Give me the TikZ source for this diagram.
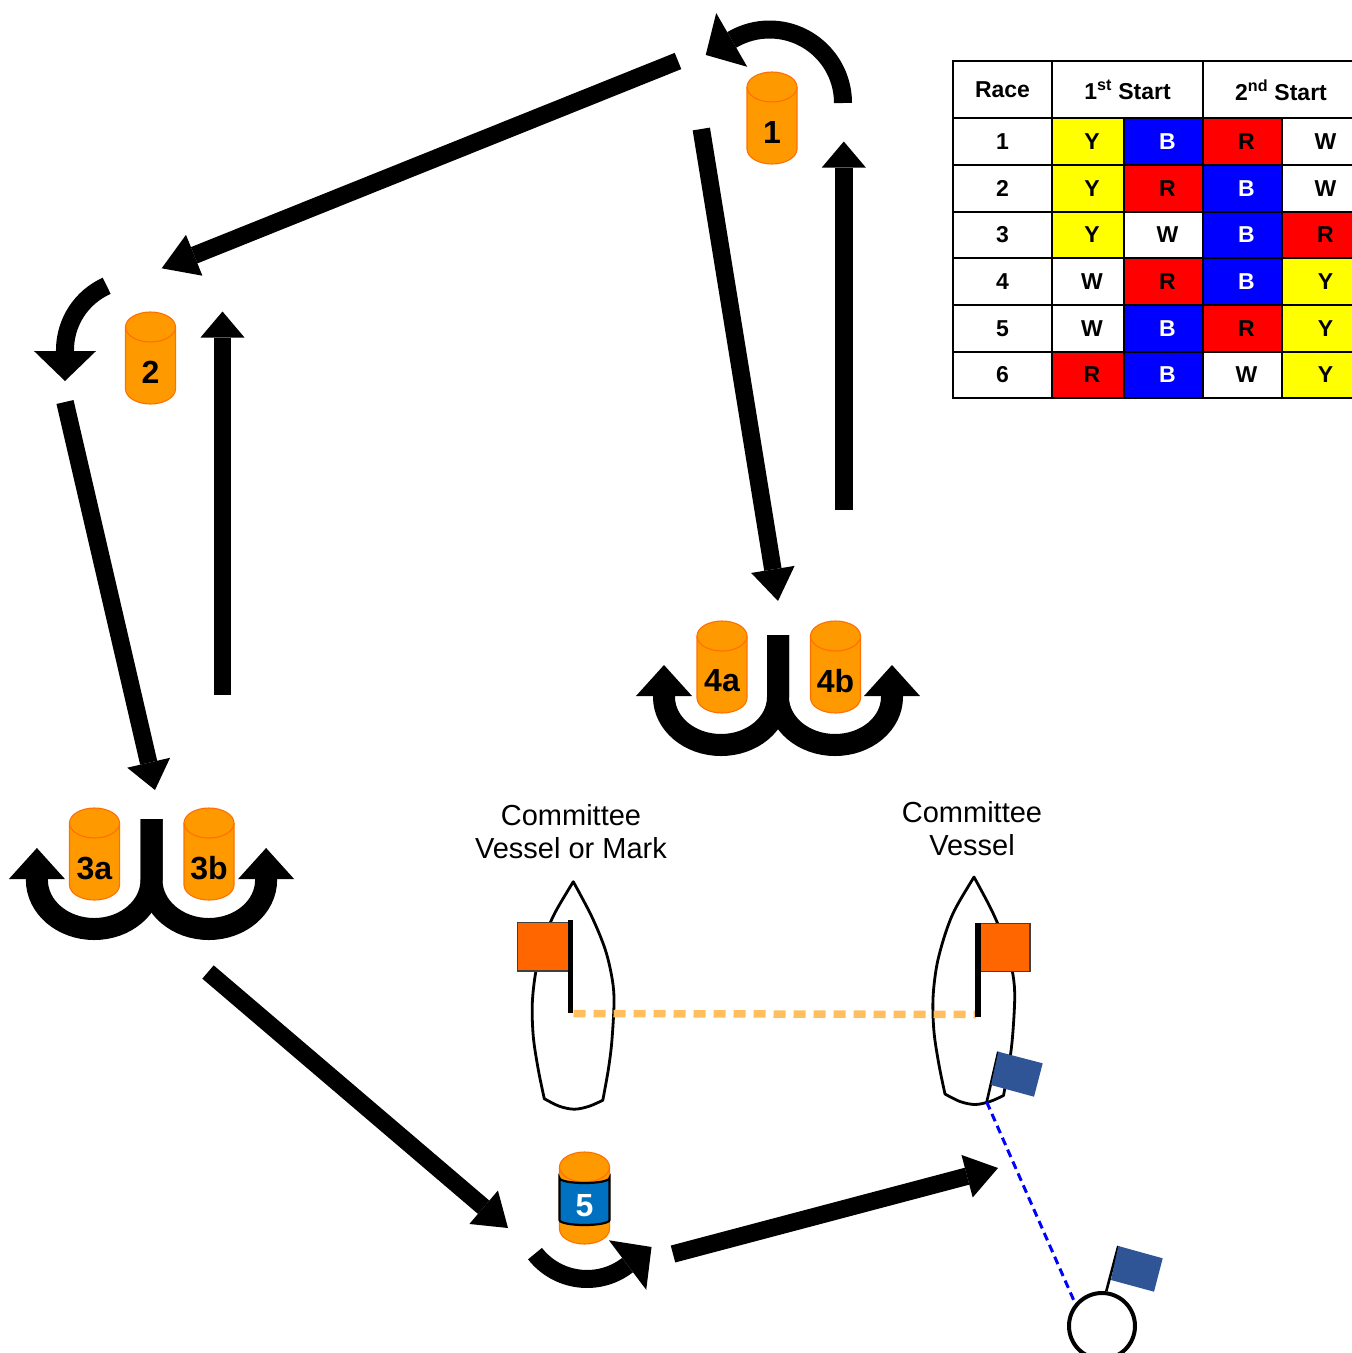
\documentclass[tikz,border=0pt]{standalone}
\usepackage{fontspec}
\setmainfont{Liberation Sans}
\usetikzlibrary{arrows.meta}
\definecolor{buoyor}{RGB}{255,153,0}
\definecolor{buoyline}{RGB}{255,112,0}
\definecolor{flagor}{RGB}{255,102,0}
\definecolor{flagblue}{RGB}{47,85,151}
\definecolor{bandblue}{RGB}{0,112,192}
\definecolor{dashor}{RGB}{255,191,95}
\definecolor{cY}{RGB}{255,255,0}
\definecolor{cB}{RGB}{0,0,255}
\definecolor{cR}{RGB}{255,0,0}
\definecolor{cW}{RGB}{255,255,255}
\colorlet{tY}{black}\colorlet{tB}{white}\colorlet{tR}{black}\colorlet{tW}{black}

\newcommand{\buoyshape}[4]{%
  \fill[buoyor] (#2-25,#3+15) -- (#2-25,#3+77) arc[start angle=180,end angle=0,x radius=25,y radius=15] -- (#2+25,#3+15) -- cycle;
  \draw[buoyedge] (#2-25,#3+15) -- (#2-25,#3+77) arc[start angle=180,end angle=0,x radius=25,y radius=15] -- (#2+25,#3+15);
  \draw[buoyedge,fill=buoyor] (#2,#3+15) ellipse[x radius=25,y radius=15];
  \node[buoylabel] (#1) at (#2,#3+60) {#4};
}
\newcommand{\tcell}[6]{%
  \fill[c#5] (#1,#3) rectangle (#2,#4);
  \node[celltext,text=t#5] (#6) at ({(#1+#2)/2+4},{(#3+#4)/2}) {#5};
}
\newcommand{\trow}[8]{%
  \node[celltext] (race#8) at (1002.5,{(#1+#2)/2}) {#3};
  \tcell{1052}{1124}{#1}{#2}{#4}{#8a}
  \tcell{1124}{1203}{#1}{#2}{#5}{#8b}
  \tcell{1203}{1282}{#1}{#2}{#6}{#8c}
  \tcell{1282}{1361}{#1}{#2}{#7}{#8d}
}
\newcommand{\hullat}[2]{%
  \begin{scope}[shift={(#1,#2)}]
    \draw[hull] plot[smooth,tension=0.55] coordinates {(0,0) (-15,25) (-23,41) (-31,64) (-37.5,90) (-41,121.5) (-40,155) (-35,188) (-29,217)}
      -- plot[smooth,tension=0.55] coordinates {(-29,217) (-14,224.5) (1,227.5) (16,224.5) (29.5,218.5)}
      -- plot[smooth,tension=0.55] coordinates {(29.5,218.5) (35,188) (38.5,160) (40.7,121.5) (39,98) (32,68) (18.5,35) (0,0)} -- cycle;
  \end{scope}
}

\begin{document}
\begin{tikzpicture}[x=1pt,y=-1pt,
  bigarr/.style={line width=17.5pt,-{Triangle[width=44pt,length=#1,line width=0pt]}},
  bigarr/.default=30pt,
  curarr/.style={line width=18pt,-{Triangle[width=62pt,length=30pt,line width=0pt]}},
  uarr/.style={line width=22pt,-{Triangle[width=56pt,length=31pt,line width=0pt]}},
  buoyedge/.style={draw=buoyline,line width=1.1pt},
  buoylabel/.style={font=\fontsize{32}{32}\selectfont\bfseries,inner sep=0},
  celltext/.style={font=\fontsize{23}{23}\selectfont\bfseries,inner sep=0},
  grid/.style={line width=2.2pt,black},
  lbl/.style={align=center,font=\fontsize{29}{33}\selectfont,inner sep=0},
  hull/.style={line width=2.8pt,black,line join=round,fill=white},
  pole/.style={line width=5.7pt,black},
  thinpole/.style={line width=2.6pt,black},
  flagbox/.style={fill=flagor,draw=black!75,line width=1.5pt},
  blueflag/.style={fill=flagblue},
  startline/.style={dashor,line width=7.5pt,dash pattern=on 12pt off 8pt},
  finishline/.style={blue,line width=3pt,dash pattern=on 8pt off 5pt}
]
\useasboundingbox (0,0) rectangle (1352,1353);
\clip (0,0) rectangle (1352,1353);

% straight legs
\draw[bigarr=35pt] (678,61) -- (161.7,268.3);
\draw[bigarr=32pt] (701.3,129) -- (778,601);
\draw[bigarr=26pt] (843.8,510) -- (843.8,141.5);
\draw[bigarr=26pt] (222.5,695) -- (222.5,311.5);
\draw[bigarr=28pt] (65,402) -- (155,790);
\draw[bigarr=32pt] (208,972) -- (508,1228);
\draw[bigarr=32pt] (673,1254) -- (998,1168);

% curved roundings
\draw[curarr] (843,103) arc[start angle=0,end angle=-120,radius=73.5] -- ++(-27,15.6);
\draw[curarr] (106.7,285.8) arc[start angle=-114,end angle=-180,radius=70.3] -- ++(0,31);
\draw[curarr] (535,1253.6) arc[start angle=142,end angle=53,radius=66] -- ++(24.8,-18.7);

% gate U-turns
\draw[uarr] (778,635) -- (778,697) arc[start angle=0,end angle=180,x radius=57,y radius=48] -- ++(0,-32);
\draw[uarr] (778,635) -- (778,697) arc[start angle=180,end angle=0,x radius=57,y radius=48] -- ++(0,-32);
\draw[uarr] (151.5,819) -- (151.5,880) arc[start angle=0,end angle=180,x radius=57.3,y radius=49] -- ++(0,-32);
\draw[uarr] (151.5,819) -- (151.5,880) arc[start angle=180,end angle=0,x radius=57.3,y radius=49] -- ++(0,-32);

% marks
\buoyshape{m1}{772}{72}{1}
\buoyshape{m2}{150.5}{312}{2}
\buoyshape{m3a}{94.5}{808}{3a}
\buoyshape{m3b}{209}{808}{3b}
\buoyshape{m4a}{722}{621}{4a}
\buoyshape{m4b}{835.5}{621}{4b}
% mark 5 with band
\fill[buoyor] (559.5,1167) -- (559.5,1229) arc[start angle=180,end angle=0,x radius=25,y radius=15] -- (609.5,1167) -- cycle;
\draw[buoyedge] (559.5,1167) -- (559.5,1229) arc[start angle=180,end angle=0,x radius=25,y radius=15] -- (609.5,1167);
\draw[buoyedge,fill=buoyor] (584.5,1167) ellipse[x radius=25,y radius=15];
\draw[fill=bandblue,draw=black,line width=2.2pt] (559.5,1178) -- (559.5,1220) arc[start angle=180,end angle=0,x radius=25,y radius=5] -- (609.5,1178) arc[start angle=0,end angle=180,x radius=25,y radius=5] -- cycle;
\node[buoylabel,text=white] (m5) at (584.5,1206) {5};

% labels
\node[lbl] (cvm) at (571,831.5) {Committee\\Vessel or Mark};
\node[lbl] (cv) at (972,828.5) {Committee\\Vessel};

% boats
\hullat{573.3}{881.7}
\hullat{974}{877}
\draw[flagbox] (517.3,922.7) rectangle (568.3,971);
\draw[flagbox] (978,923.3) rectangle (1030,971.7);
\coordinate (lpole) at (573.5,1013.5);
\coordinate (rpole) at (976,1014.5);
\draw[startline] (lpole) -- (rpole);
\draw[pole] (570.5,920) -- (570.5,1013.3);
\draw[pole] (977.8,923.3) -- (977.8,1016.7);

% finish
\coordinate (rstern) at (986.7,1102);
\draw[thinpole] (rstern) -- (998.3,1051.7);
\fill[blueflag] (998.3,1051.7) -- (1042.7,1063.3) -- (1034,1096.7) -- (991,1085) -- cycle;
\node[circle,draw,line width=4pt,minimum size=66pt,inner sep=0,fill=white] (pin) at (1102,1326) {};
\draw[finishline] (rstern) -- (pin.140);
\draw[thinpole] (pin.83) -- (1118.3,1246);
\fill[blueflag] (1118.3,1246) -- (1162.7,1258.3) -- (1154,1291.7) -- (1111,1280) -- cycle;

% table
\node[celltext] (hrace) at (1002.5,90) {Race};
\node[celltext] (hfirst) at (1127.5,90) {1\textsuperscript{st} Start};
\node[celltext] (hsecond) at (1281,90) {2\textsuperscript{nd} Start};
\trow{118}{165}{1}{Y}{B}{R}{W}{r1}
\trow{165}{212}{2}{Y}{R}{B}{W}{r2}
\trow{212}{258}{3}{Y}{W}{B}{R}{r3}
\trow{258}{305}{4}{W}{R}{B}{Y}{r4}
\trow{305}{352}{5}{W}{B}{R}{Y}{r5}
\trow{352}{398}{6}{R}{B}{W}{Y}{r6}
\draw[grid] (953,61) rectangle (1361,398);
\draw[grid] (1052,61) -- (1052,398) (1203,61) -- (1203,398) (1124,118) -- (1124,398) (1282,118) -- (1282,398);
\foreach \yy in {118,165,212,258,305,352} \draw[grid] (953,\yy) -- (1361,\yy);
\end{tikzpicture}
\end{document}
